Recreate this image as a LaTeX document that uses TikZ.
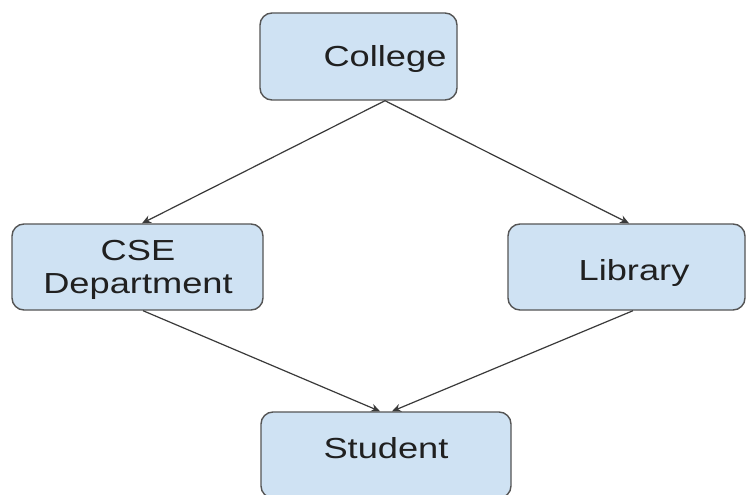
\documentclass[tikz,border=0pt]{standalone}
\usepackage{fontspec}
\setmainfont{Liberation Sans}[FakeStretch=1.25]
\usetikzlibrary{arrows.meta}
\definecolor{boxfill}{HTML}{CFE2F3}
\definecolor{boxline}{HTML}{555555}
\definecolor{txt}{HTML}{202020}
\definecolor{conn}{HTML}{3A3A3A}
\begin{document}
\begin{tikzpicture}[x=1pt,y=-1pt,
  box/.style={draw=boxline, fill=boxfill, line width=1.4pt, rounded corners=12pt, inner sep=0pt},
  lbl/.style={text=txt, font=\fontsize{29pt}{33pt}\selectfont, inner sep=0pt, anchor=base, align=center},
  conn/.style={draw=conn, line width=1.2pt, -{Stealth[length=9pt,width=8pt]}}]
\clip (0,0) rectangle (748,495);
\fill[white] (0,0) rectangle (748,495);
\node[box, minimum width=197pt, minimum height=87pt] (college) at (358.5,56.5) {};
\node[box, minimum width=251pt, minimum height=86pt] (cse) at (137.5,267) {};
\node[box, minimum width=237pt, minimum height=86pt] (library) at (626.5,267) {};
\node[box, minimum width=250pt, minimum height=86pt] (student) at (386,455) {};
\node[lbl] (collegetxt) at (385,67) {College};
\node[lbl] (csetxt) at (138,293) {CSE\\Department};
\node[lbl] (librarytxt) at (634,280) {Library};
\node[lbl] (studenttxt) at (386,458) {Student};
\draw[conn] ([xshift=26.5pt]college.south) -- ([xshift=4.5pt]cse.north);
\draw[conn] ([xshift=26.5pt]college.south) -- ([xshift=2.5pt]library.north);
\draw[conn] ([xshift=5.5pt]cse.south) -- ([xshift=-6pt]student.north);
\draw[conn] ([xshift=6.5pt]library.south) -- ([xshift=6pt]student.north);
\end{tikzpicture}
\end{document}
